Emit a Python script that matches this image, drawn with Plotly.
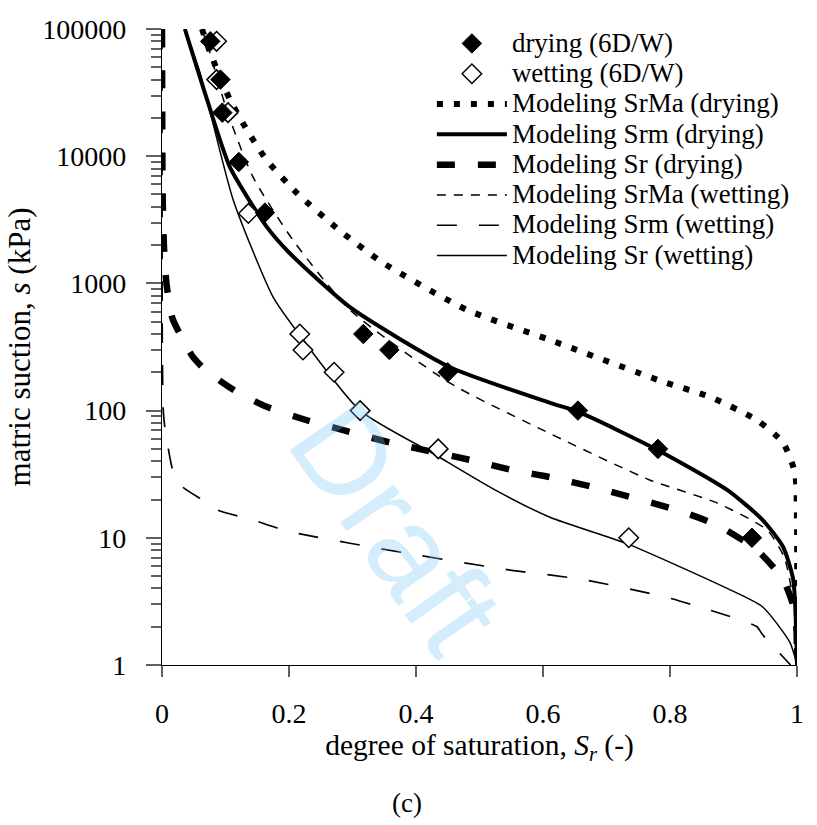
import plotly.graph_objects as go

# ---------------- data ----------------
dry_Sr = [0.076, 0.092, 0.095, 0.121, 0.162, 0.317, 0.358, 0.450, 0.655, 0.781, 0.929]
dry_s = [80000, 40000, 22000, 9000, 3600, 400, 300, 200, 100, 50, 10]

wet_Sr = [0.086, 0.086, 0.104, 0.136, 0.217, 0.222, 0.271, 0.312, 0.435, 0.735]
wet_s = [80000, 40000, 22000, 3550, 400, 300, 200, 100, 50, 10]

srma_dry_Sr = [0.063, 0.076, 0.107, 0.134, 0.165, 0.213, 0.280, 0.348, 0.480, 0.611, 0.790, 0.863, 0.937, 0.978, 0.997, 1.0, 1.0]
srma_dry_s = [100000, 65000, 27800, 16000, 9300, 5100, 2600, 1450, 620, 359, 168, 128, 84, 56, 32, 13, 1]

srm_dry_Sr = [0.036, 0.071, 0.107, 0.165, 0.200, 0.296, 0.453, 0.611, 0.655, 0.784, 0.890, 0.946, 0.978, 0.994, 1.0]
srm_dry_s = [100000, 27800, 8200, 2780, 1750, 650, 220, 115, 98, 48, 23.8, 13.8, 8.5, 4.7, 1]

sr_dry_Sr = [0.0, 0.001, 0.003, 0.007, 0.016, 0.027, 0.047, 0.065, 0.096, 0.118, 0.165, 0.228, 0.296, 0.360, 0.485, 0.553, 0.611, 0.685, 0.811, 0.874, 0.937, 0.978, 0.997, 1.0]
sr_dry_s = [100000, 5000, 2000, 1000, 540, 410, 272, 216, 165, 140, 107, 84, 68, 56, 41, 34, 30, 24.6, 16.5, 12.6, 8, 4.7, 2.6, 1]

srma_wet_Sr = [0.062, 0.071, 0.102, 0.143, 0.206, 0.296, 0.453, 0.611, 0.768, 0.874, 0.953, 0.980, 0.995, 1.0]
srma_wet_s = [100000, 77000, 23000, 6900, 2200, 620, 165, 66, 28.5, 18.8, 11.5, 7, 3, 1]

srm_wet_Sr = [0.0, 0.0005, 0.002, 0.005, 0.010, 0.017, 0.033, 0.063, 0.088, 0.143, 0.200, 0.383, 0.546, 0.663, 0.795, 0.863, 0.937, 0.945, 0.990]
srm_wet_s = [100000, 300, 100, 70, 50, 34, 25, 20, 16.5, 13.8, 11.2, 7.6, 5.6, 4.7, 3.4, 2.7, 2.0, 1.75, 1.0]

sr_wet_Sr = [0.036, 0.060, 0.112, 0.175, 0.217, 0.312, 0.427, 0.520, 0.611, 0.732, 0.890, 0.946, 0.989, 1.0]
sr_wet_s = [100000, 45000, 4550, 780, 391, 100, 46, 24.5, 14.5, 9.0, 4.0, 2.86, 1.5, 1]

y_tickvals = [1, 10, 100, 1000, 10000, 100000]
y_ticktext = ["1", "10", "100", "1000", "10000", "100000"]
x_tickvals = [0, 0.2, 0.4, 0.6, 0.8, 1]
x_ticktext = ["0", "0.2", "0.4", "0.6", "0.8", "1"]
minor_y = [m * d for d in [1, 10, 100, 1000, 10000] for m in range(2, 10)]

FONT = "Liberation Serif, Times New Roman, Times, serif"
LEG = lambda t: '<span style="font-size:27px">' + t + '</span>'

fig = go.Figure()

def curve(x, y, name, width, dash, rank):
    fig.add_trace(go.Scatter(
        x=x, y=y, mode="lines", name=LEG(name), legendrank=rank,
        line=dict(color="black", width=width, dash=dash, shape="spline", smoothing=0.6),
        cliponaxis=False, hoverinfo="skip"))

curve(srma_dry_Sr, srma_dry_s, "Modeling SrMa (drying)", 6, "6px,11px", 3)
curve(srm_dry_Sr, srm_dry_s, "Modeling Srm (drying)", 4, "solid", 4)
curve(sr_dry_Sr, sr_dry_s, "Modeling Sr (drying)", 6.5, "18px,23px", 5)
curve(srma_wet_Sr, srma_wet_s, "Modeling SrMa (wetting)", 1.5, "9px,8px", 6)
curve(srm_wet_Sr, srm_wet_s, "Modeling Srm (wetting)", 1.7, "20px,22px", 7)
curve(sr_wet_Sr, sr_wet_s, "Modeling Sr (wetting)", 1.5, "solid", 8)

fig.add_trace(go.Scatter(
    x=wet_Sr, y=wet_s, mode="markers", name=LEG("wetting (6D/W)"), legendrank=2,
    marker=dict(symbol="diamond", size=15, color="white", line=dict(color="black", width=1.5)),
    cliponaxis=False))
fig.add_trace(go.Scatter(
    x=dry_Sr, y=dry_s, mode="markers", name=LEG("drying (6D/W)"), legendrank=1,
    marker=dict(symbol="diamond", size=15, color="black", line=dict(color="black", width=1)),
    cliponaxis=False))

fig.add_annotation(text="Draft", x=0.37, y=0.216, xref="paper", yref="paper",
                   xanchor="center", yanchor="middle",
                   showarrow=False, textangle=55,
                   font=dict(family="Liberation Sans", size=124, color="rgba(120,200,245,0.32)"))
fig.add_annotation(text="(c)", x=0.386, y=-0.217, xref="paper", yref="paper",
                   xanchor="center", yanchor="middle",
                   showarrow=False, font=dict(family=FONT, size=27, color="black"))

fig.update_layout(
    width=817, height=825,
    margin=dict(l=162, r=20, t=29, b=160),
    paper_bgcolor="white", plot_bgcolor="white",
    font=dict(family=FONT, size=28, color="black"),
    showlegend=True,
    legend=dict(x=0.425, y=1.009, xanchor="left", yanchor="top",
                font=dict(family=FONT, size=21, color="black"),
                bgcolor="rgba(0,0,0,0)", itemwidth=70, traceorder="normal"),
    xaxis=dict(range=[0, 1], tickmode="array", tickvals=x_tickvals, ticktext=x_ticktext,
               showline=True, linecolor="black", linewidth=1.3, zeroline=False,
               showgrid=False, ticks="outside", ticklen=11, tickwidth=1.5, tickcolor="#606060",
               ticklabelstandoff=12,
               title=dict(text="degree of saturation, <i>S<sub>r</sub></i> (-)", standoff=6,
                          font=dict(size=29.5))),
    yaxis=dict(type="log", range=[0, 5], tickmode="array", tickvals=y_tickvals, ticktext=y_ticktext,
               showline=True, linecolor="black", linewidth=1.3, zeroline=False,
               showgrid=False, ticks="outside", ticklen=15, tickwidth=1.5, tickcolor="#606060",
               ticklabelstandoff=14,
               minor=dict(tickmode="array", tickvals=minor_y, ticks="outside", ticklen=10,
                          tickwidth=1.5, tickcolor="#606060", showgrid=False),
               title=dict(text="matric suction, <i>s</i> (kPa)", standoff=2, font=dict(size=31))),
)

fig.write_html("out.html")
